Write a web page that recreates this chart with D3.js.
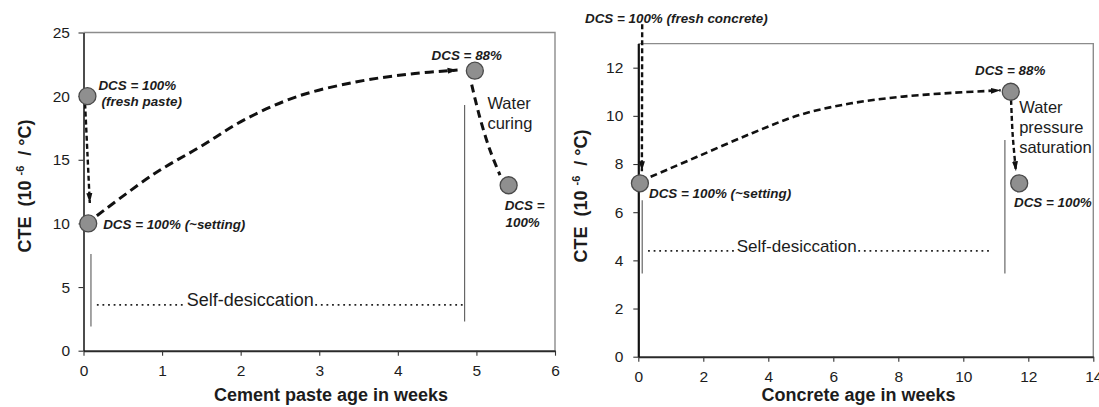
<!DOCTYPE html>
<html>
<head>
<meta charset="utf-8">
<script src="https://cdn.jsdelivr.net/npm/d3@7"></script>
<style>
  html, body { margin: 0; padding: 0; background: #fff; }
  svg { display: block; font-family: "Liberation Sans", Arial, Helvetica, sans-serif; }
  text { white-space: pre; }
</style>
</head>
<body>
<svg id="fig" width="1099" height="407"></svg>
<script>
// ---------- cement paste panel ----------
const pasteWeekTicks = [0, 1, 2, 3, 4, 5, 6];
const pasteCteTicks = [0, 5, 10, 15, 20, 25];
// measured states (weeks, CTE in 1e-6/°C)
const pasteStateWeeks = [0.05, 0.06, 4.98, 5.41];
const pasteStateCte = [20, 10, 22, 13];
// transition paths [weeks, CTE]
const pasteSettingPath = [[0.02, 19.4], [0.05, 15.5], [0.08, 11.6]];
const pasteDryingPath = [[0.17, 10.6], [0.9, 13.9], [1.48, 16.0], [2.05, 18.15], [2.71, 19.95], [3.48, 21.13], [4.16, 21.74], [4.76, 22.05]];
const pasteCuringPath = [[4.94, 20.9], [5.04, 18.4], [5.17, 15.8], [5.30, 13.8]];
// guide bars bounding the self-desiccation period [weeks, from, to]
const pasteGuides = [[0.095, 1.9, 7.6], [4.85, 2.3, 19.3]];
// annotations [weeks, CTE, text, style]
const pasteLabels = [
  [0.19, 20.48, "DCS = 100%", "dcs"],
  [0.23, 19.22, "(fresh paste)", "dcs"],
  [0.25, 9.56, "DCS = 100% (~setting)", "dcs"],
  [4.43, 22.84, "DCS = 88%", "dcs"],
  [5.36, 11.05, "DCS =", "dcs"],
  [5.37, 9.74, "100%", "dcs"],
  [5.14, 18.96, "Water", "note"],
  [5.14, 17.4, "curing", "note"]
];
// self-desiccation span [start, text start, end, baseline CTE]
const pasteSpan = [0.17, 1.313, 4.83, 3.5];

// ---------- concrete panel ----------
const concreteWeekTicks = [0, 2, 4, 6, 8, 10, 12, 14];
const concreteCteTicks = [0, 2, 4, 6, 8, 10, 12];
const concreteStateWeeks = [0.05, 11.46, 11.72];
const concreteStateCte = [7.2, 11.0, 7.2];
const concreteSettingPath = [[0.12, 13.8], [0.11, 7.7]];
const concreteDryingPath = [[0.38, 7.47], [1.81, 8.3], [3.5, 9.28], [4.97, 10.04], [6.55, 10.52], [8.14, 10.8], [9.72, 10.96], [11.15, 11.06]];
const concreteSaturationPath = [[11.47, 10.66], [11.52, 9.2], [11.62, 7.7]];
const concreteGuides = [[0.12, 3.45, 6.5], [11.28, 3.45, 9.0]];
const concreteLabels = [
  [-1.64, 13.87, "DCS = 100% (fresh concrete)", "dcs"],
  [0.33, 6.58, "DCS = 100% (~setting)", "dcs"],
  [10.36, 11.7, "DCS = 88%", "dcs"],
  [11.56, 6.23, "DCS = 100%", "dcs"],
  [11.72, 10.11, "Water", "note"],
  [11.72, 9.28, "pressure", "note"],
  [11.72, 8.45, "saturation", "note"]
];
const concreteSpan = [0.3, 3.03, 10.85, 4.34];

const svg = d3.select("#fig");
const ink = "#1c1c1c";

// arrowhead used at the end of transition paths
svg.append("defs").append("marker")
  .attr("id", "head")
  .attr("viewBox", "0 -4 10 8")
  .attr("refX", 10).attr("refY", 0)
  .attr("markerWidth", 10).attr("markerHeight", 8)
  .attr("markerUnits", "userSpaceOnUse")
  .attr("orient", "auto")
  .append("path").attr("d", "M0,-3L10,0L0,3Z").attr("fill", "#111");

function drawPanel(p) {
  const x = d3.scaleLinear().domain(p.xDomain).range(p.xRange);
  const y = d3.scaleLinear().domain(p.yDomain).range(p.yRange);
  const g = svg.append("g");

  // top and right frame
  g.append("path")
    .attr("d", `M${p.xRange[0]},${p.yRange[1]}H${p.xRange[1]}V${p.yRange[0]}`)
    .attr("fill", "none").attr("stroke", "#8c8c8c").attr("stroke-width", 1.4);

  // x axis
  const xa = g.append("g")
    .attr("transform", `translate(0,${y(0)})`)
    .call(d3.axisBottom(x).tickValues(p.xTicks).tickFormat(d3.format("d"))
      .tickSize(5).tickSizeOuter(0).tickPadding(9));
  xa.attr("font-size", 15.5).attr("font-family", null);
  xa.select(".domain").attr("stroke", "#2a2a2a").attr("stroke-width", 2);
  xa.selectAll(".tick line").attr("stroke", "#333").attr("stroke-width", 1.1);
  xa.selectAll(".tick text").attr("fill", ink);

  // y axis
  const ya = g.append("g")
    .attr("transform", `translate(${x(0)},0)`)
    .call(d3.axisLeft(y).tickValues(p.yTicks).tickFormat(d3.format("d"))
      .tickSize(5).tickSizeOuter(0).tickPadding(p.yPad));
  ya.attr("font-size", 15.5).attr("font-family", null);
  ya.select(".domain").attr("stroke", "#111").attr("stroke-width", p.yAxisWidth);
  ya.selectAll(".tick line").attr("stroke", "#333").attr("stroke-width", 1.1);
  ya.selectAll(".tick text").attr("fill", ink);

  // guide bars
  g.selectAll("line.guide").data(p.guides).join("line")
    .attr("class", "guide")
    .attr("x1", d => x(d[0])).attr("x2", d => x(d[0]))
    .attr("y1", d => y(d[1])).attr("y2", d => y(d[2]))
    .attr("stroke", "#5a5a5a").attr("stroke-width", 1.1);

  // self-desiccation span: label with dotted leaders
  const s = p.span;
  const st = g.append("text")
    .attr("x", x(s[1])).attr("y", y(s[3]))
    .attr("font-size", p.spanSize).attr("fill", ink)
    .text("Self-desiccation");
  const tw = st.node().getComputedTextLength();
  const dotY = y(s[3]) - 1.2;
  [[x(s[0]), x(s[1]) - 1], [x(s[1]) + tw + 1.5, x(s[2])]].forEach(seg => {
    g.append("line")
      .attr("x1", seg[0]).attr("x2", seg[1])
      .attr("y1", dotY).attr("y2", dotY)
      .attr("stroke", "#222").attr("stroke-width", 1.8)
      .attr("stroke-dasharray", "1.8,3.8");
  });

  // transition paths
  const line = d3.line().x(d => x(d[0])).y(d => y(d[1])).curve(d3.curveCatmullRom.alpha(0.5));
  p.paths.forEach(pt => {
    const el = g.append("path")
      .attr("d", line(pt.data))
      .attr("fill", "none").attr("stroke", "#111")
      .attr("stroke-width", pt.width)
      .attr("stroke-dasharray", pt.dash);
    if (pt.arrow) el.attr("marker-end", "url(#head)");
  });

  // states
  g.selectAll("circle.state").data(p.stateWeeks).join("circle")
    .attr("class", "state")
    .attr("cx", d => x(d))
    .attr("cy", (d, i) => y(p.stateCte[i]))
    .attr("r", 8.5)
    .attr("fill", "#8f8f8f").attr("stroke", "#4a4a4a").attr("stroke-width", 1.3);

  // annotations
  g.selectAll("text.lab").data(p.labels).join("text")
    .attr("class", "lab")
    .attr("x", d => x(d[0])).attr("y", d => y(d[1]))
    .attr("fill", ink)
    .attr("font-size", d => d[3] === "dcs" ? 13.4 : 16.5)
    .attr("font-weight", d => d[3] === "dcs" ? "bold" : "normal")
    .attr("font-style", d => d[3] === "dcs" ? "italic" : "normal")
    .text(d => d[2]);

  // axis titles
  g.append("text")
    .attr("x", p.xTitle[0]).attr("y", p.xTitle[1])
    .attr("text-anchor", "middle").attr("font-size", 18).attr("font-weight", "bold")
    .attr("fill", ink).text(p.xLabel);

  const yt = g.append("text")
    .attr("transform", `translate(${p.yTitle[0]},${p.yTitle[1]}) rotate(-90)`)
    .attr("text-anchor", "middle").attr("font-size", 18).attr("font-weight", "bold")
    .attr("fill", ink);
  yt.append("tspan").text("CTE  (10 ");
  yt.append("tspan").attr("font-size", 11).attr("dy", -7).text("-6");
  yt.append("tspan").attr("dy", 7).text("  / °C)");
}

drawPanel({
  xDomain: [0, 6], xRange: [83.5, 555],
  yDomain: [0, 25], yRange: [350.7, 32.5],
  xTicks: pasteWeekTicks, yTicks: pasteCteTicks,
  yPad: 8.5, yAxisWidth: 1.5,
  stateWeeks: pasteStateWeeks, stateCte: pasteStateCte,
  paths: [
    { data: pasteSettingPath, width: 2.4, dash: "5,3", arrow: true },
    { data: pasteDryingPath, width: 3, dash: "9,5", arrow: true },
    { data: pasteCuringPath, width: 3, dash: "8,5", arrow: false }
  ],
  guides: pasteGuides,
  labels: pasteLabels,
  span: pasteSpan, spanSize: 18,
  xLabel: "Cement paste age in weeks",
  xTitle: [331, 401],
  yTitle: [31, 186]
});

drawPanel({
  xDomain: [0, 14], xRange: [638.3, 1093.3],
  yDomain: [0, 13], yRange: [356.7, 43.6],
  xTicks: concreteWeekTicks, yTicks: concreteCteTicks,
  yPad: 10, yAxisWidth: 2.2,
  stateWeeks: concreteStateWeeks, stateCte: concreteStateCte,
  paths: [
    { data: concreteSettingPath, width: 2.4, dash: "5,3", arrow: true },
    { data: concreteDryingPath, width: 2.6, dash: "7,4", arrow: true },
    { data: concreteSaturationPath, width: 2.4, dash: "5,3", arrow: true }
  ],
  guides: concreteGuides,
  labels: concreteLabels,
  span: concreteSpan, spanSize: 17,
  xLabel: "Concrete age in weeks",
  xTitle: [858.5, 401],
  yTitle: [587, 196]
});
</script>
</body>
</html>
